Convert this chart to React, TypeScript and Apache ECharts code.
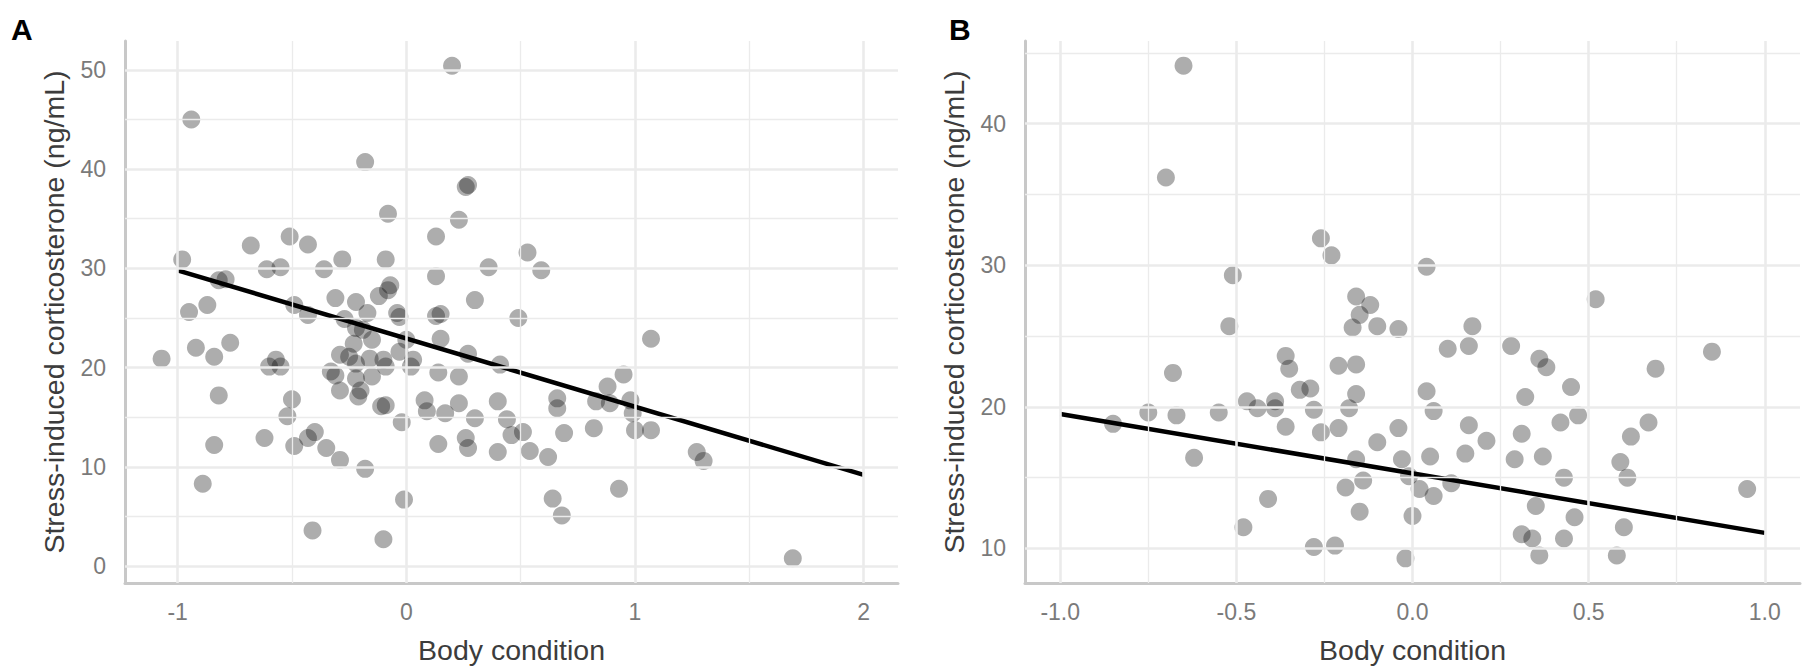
import React, { useEffect, useRef } from "react";
import * as echarts from "echarts";

// ---------- Panel A data ----------
const aX = [
  -0.94, -0.18, -0.08, 0.13, -0.98, -0.68, -0.51, -0.43, -0.61, -0.55, -0.36, -0.28, -0.09, -0.07, 0.13, -0.82, -0.79,
  -0.95, -0.87, -0.49, -0.43, -0.31, -0.22, -0.17, -0.12, -0.08, -0.04, -0.03, 0.13, 0.15, -0.27, -0.22, -0.19,
  -1.07, -0.92, -0.77, -0.84, -0.57, -0.55, -0.6, -0.15, -0.23, -0.29, -0.25, -0.33, -0.31, -0.22, -0.22, -0.16, -0.15,
  -0.1, -0.09, -0.03, 0.0, 0.03, 0.02, 0.14, -0.29, -0.21, -0.2, -0.11, -0.09, -0.02, 0.08, 0.09, 0.14, 0.17,
  -0.82, -0.5, -0.52, -0.84, -0.62, -0.49, -0.43, -0.4, -0.35, -0.29, -0.18, -0.89, -0.01,
  0.2, 0.27, 0.26, 0.23, 0.53, 0.59, 0.36, 0.3, 0.49, 1.07, 0.15, 0.27, 0.41, 0.23, 0.95, 0.88, 0.98, 0.83, 0.89,
  0.99, 0.66, 0.66, 0.23, 0.4, 0.3, 0.44, 0.51, 0.46, 0.69, 0.82, 1.0, 1.07, 0.26, 0.27, 0.4, 0.54, 0.62, 1.27, 1.3,
  0.93, 0.64, 0.68, -0.41, -0.1, 1.69,
];
const aY = [
  45.0, 40.7, 35.5, 33.2, 30.9, 32.3, 33.2, 32.4, 29.9, 30.1, 29.9, 30.9, 30.9, 28.3, 29.2, 28.8, 28.9,
  25.6, 26.3, 26.3, 25.3, 27.0, 26.6, 25.5, 27.2, 27.8, 25.5, 25.1, 25.2, 25.4, 24.9, 24.0, 23.8,
  20.9, 22.0, 22.5, 21.1, 20.8, 20.1, 20.1, 22.8, 22.4, 21.3, 21.1, 19.6, 19.2, 20.4, 18.9, 20.9, 19.1,
  20.8, 20.1, 21.6, 22.8, 20.8, 20.1, 19.5, 17.7, 17.1, 17.7, 16.1, 16.2, 14.5, 16.7, 15.6, 12.3, 15.4,
  17.2, 16.8, 15.1, 12.2, 12.9, 12.1, 12.9, 13.5, 11.9, 10.7, 9.8, 8.3, 6.7,
  50.4, 38.4, 38.2, 34.9, 31.6, 29.8, 30.1, 26.8, 25.0, 22.9, 22.9, 21.4, 20.3, 19.1, 19.3, 18.1, 16.7, 16.6, 16.4,
  15.4, 16.9, 15.9, 16.4, 16.6, 14.9, 14.8, 13.5, 13.2, 13.4, 13.9, 13.7, 13.7, 12.9, 11.9, 11.5, 11.6, 11.0, 11.5, 10.6,
  7.8, 6.8, 5.1, 3.6, 2.7, 0.8,
];
const fitAX = [-1, 2];
const fitAY = [29.8, 9.2];

// ---------- Panel B data ----------
const bX = [
  -0.65, -0.7, -0.26, -0.23, -0.51, -0.16, -0.12, 0.04, -0.15, -0.17, -0.1, -0.04, -0.52, -0.36, -0.35, -0.21, -0.16,
  -0.68, -0.32, -0.29, -0.16, 0.04, -0.47, -0.44, -0.39, -0.39, -0.28, -0.18, -0.75, -0.67, -0.55, -0.85, -0.36,
  -0.26, -0.21, -0.04, -0.1, -0.62, -0.16, -0.03, -0.14, -0.19, -0.01, 0.02, -0.41, -0.15, 0.0, -0.48, -0.28, -0.22,
  -0.02, 0.52, 0.17, 0.1, 0.16, 0.28, 0.36, 0.38, 0.69, 0.85, 0.06, 0.32, 0.45, 0.47, 0.42, 0.16, 0.21, 0.31, 0.67,
  0.62, 0.05, 0.15, 0.29, 0.37, 0.59, 0.11, 0.06, 0.43, 0.61, 0.95, 0.35, 0.46, 0.6, 0.31, 0.34, 0.43, 0.36, 0.58,
];
const bY = [
  44.1, 36.2, 31.9, 30.7, 29.3, 27.8, 27.2, 29.9, 26.5, 25.6, 25.7, 25.5, 25.7, 23.6, 22.7, 22.9, 23.0,
  22.4, 21.2, 21.3, 20.9, 21.1, 20.4, 19.9, 20.4, 19.9, 19.8, 19.9, 19.6, 19.4, 19.6, 18.8, 18.6,
  18.2, 18.5, 18.5, 17.5, 16.4, 16.3, 16.3, 14.8, 14.3, 15.1, 14.2, 13.5, 12.6, 12.3, 11.5, 10.1, 10.2,
  9.3, 27.6, 25.7, 24.1, 24.3, 24.3, 23.4, 22.8, 22.7, 23.9, 19.7, 20.7, 21.4, 19.4, 18.9, 18.7, 17.6, 18.1, 18.9,
  17.9, 16.5, 16.7, 16.3, 16.5, 16.1, 14.6, 13.7, 15.0, 15.0, 14.2, 13.0, 12.2, 11.5, 11.0, 10.7, 10.7, 9.5, 9.5,
];
const fitBX = [-1, 1];
const fitBY = [19.5, 11.1];

// ---------- ticks / gridlines ----------
const ticksAX = [-1, 0, 1, 2];
const minorAX = [-0.5, 0.5, 1.5];
const ticksAY = [0, 10, 20, 30, 40, 50];
const minorAY = [5, 15, 25, 35, 45];
const ticksBX = [-1, -0.5, 0, 0.5, 1];
const minorBX = [-0.75, -0.25, 0.25, 0.75];
const ticksBY = [10, 20, 30, 40];
const minorBY = [15, 25, 35, 45];

const xTitle = "Body condition";
const yTitle = "Stress-induced corticosterone (ng/mL)";

const FONT = "Liberation Sans, Arial, sans-serif";
const GRID_COLOR = "#ebebeb";
const AXIS_COLOR = "#c8c8c8";
const TICK_COLOR = "#7a7a7a";
const TITLE_COLOR = "#3c3c3c";

function pairs(xs: number[], ys: number[]) {
  return xs.map((x, i) => [x, ys[i]]);
}

function gridSeries(idx: number, majX: number[], minX: number[], majY: number[], minY: number[]) {
  const major = { color: GRID_COLOR, width: 2.6, type: "solid" };
  const minor = { color: GRID_COLOR, width: 1.3, type: "solid" };
  return {
    type: "scatter",
    xAxisIndex: idx,
    yAxisIndex: idx,
    data: [],
    silent: true,
    z: 0,
    markLine: {
      silent: true,
      symbol: ["none", "none"],
      label: { show: false },
      emphasis: { disabled: true },
      animation: false,
      data: [
        ...minX.map((v) => ({ xAxis: v, lineStyle: minor })),
        ...minY.map((v) => ({ yAxis: v, lineStyle: minor })),
        ...majX.map((v) => ({ xAxis: v, lineStyle: major })),
        ...majY.map((v) => ({ yAxis: v, lineStyle: major })),
      ],
    },
  };
}

function xAxisCfg(idx: number, min: number, max: number, ticks: number[], fmt: (v: number) => string) {
  return {
    type: "value",
    gridIndex: idx,
    min,
    max,
    name: xTitle,
    nameLocation: "middle",
    nameGap: 52,
    nameTextStyle: { fontFamily: FONT, fontSize: 28.5, color: TITLE_COLOR },
    axisLine: { show: true, onZero: false, lineStyle: { color: AXIS_COLOR, width: 3 } },
    axisTick: { show: false },
    splitLine: { show: false },
    axisLabel: {
      customValues: ticks,
      formatter: fmt,
      margin: 17,
      fontFamily: FONT,
      fontSize: 23,
      color: TICK_COLOR,
    },
  };
}

function yAxisCfg(idx: number, min: number, max: number, ticks: number[]) {
  return {
    type: "value",
    gridIndex: idx,
    min,
    max,
    name: yTitle,
    nameLocation: "middle",
    nameGap: 57,
    nameTextStyle: { fontFamily: FONT, fontSize: 28.5, color: TITLE_COLOR },
    axisLine: { show: true, onZero: false, lineStyle: { color: AXIS_COLOR, width: 3 } },
    axisTick: { show: false },
    splitLine: { show: false },
    axisLabel: {
      customValues: ticks,
      formatter: (v: number) => String(v),
      margin: 19,
      fontFamily: FONT,
      fontSize: 23,
      color: TICK_COLOR,
    },
  };
}

function pointSeries(idx: number, xs: number[], ys: number[]) {
  return {
    type: "scatter",
    xAxisIndex: idx,
    yAxisIndex: idx,
    data: pairs(xs, ys),
    symbol: "circle",
    symbolSize: 18,
    itemStyle: { color: "rgba(0,0,0,0.4)" },
    silent: true,
    z: 2,
  };
}

function fitSeries(idx: number, xs: number[], ys: number[]) {
  return {
    type: "line",
    xAxisIndex: idx,
    yAxisIndex: idx,
    data: pairs(xs, ys),
    symbol: "none",
    lineStyle: { color: "#000000", width: 4.5 },
    silent: true,
    z: 3,
  };
}

export default function App() {
  const ref = useRef<HTMLDivElement>(null);
  useEffect(() => {
    if (!ref.current) return;
    const chart = echarts.init(ref.current, undefined, { renderer: "svg" });
    chart.setOption({
      animation: false,
      backgroundColor: "#ffffff",
      textStyle: { fontFamily: FONT },
      grid: [
        { left: 125, top: 41, width: 773, height: 542, containLabel: false, outerBoundsMode: "none" },
        { left: 1025, top: 41, width: 775, height: 542, containLabel: false, outerBoundsMode: "none" },
      ],
      xAxis: [
        xAxisCfg(0, -1.23, 2.15, ticksAX, (v: number) => String(v)),
        xAxisCfg(1, -1.1, 1.1, ticksBX, (v: number) => v.toFixed(1)),
      ],
      yAxis: [yAxisCfg(0, -1.7, 52.9, ticksAY), yAxisCfg(1, 7.56, 45.84, ticksBY)],
      graphic: [
        {
          type: "text",
          left: 11,
          top: 14,
          style: { text: "A", font: `bold 30px ${FONT}`, fill: "#000000" },
        },
        {
          type: "text",
          left: 949,
          top: 14,
          style: { text: "B", font: `bold 30px ${FONT}`, fill: "#000000" },
        },
      ],
      series: [
        gridSeries(0, ticksAX, minorAX, ticksAY, minorAY),
        gridSeries(1, ticksBX, minorBX, ticksBY, minorBY),
        pointSeries(0, aX, aY),
        pointSeries(1, bX, bY),
        fitSeries(0, fitAX, fitAY),
        fitSeries(1, fitBX, fitBY),
      ],
    });
    return () => chart.dispose();
  }, []);
  return (
    <div
      ref={ref}
      style={{ position: "absolute", left: 0, top: 0, width: 1807, height: 671, background: "#fff" }}
    />
  );
}
